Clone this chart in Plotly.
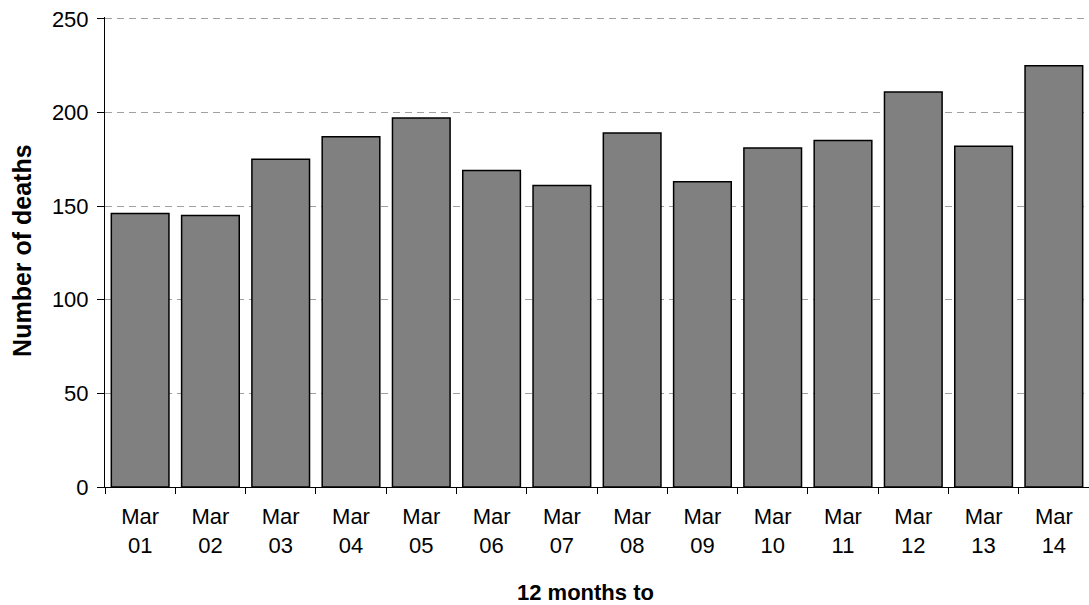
import plotly.graph_objects as go

# Deaths per 12-month period ending in March
periods = ["Mar<br>01", "Mar<br>02", "Mar<br>03", "Mar<br>04", "Mar<br>05", "Mar<br>06", "Mar<br>07",
           "Mar<br>08", "Mar<br>09", "Mar<br>10", "Mar<br>11", "Mar<br>12", "Mar<br>13", "Mar<br>14"]
deaths = [146, 145, 175, 187, 197, 169, 161, 189, 163, 181, 185, 211, 182, 225]
y_ticks = [0, 50, 100, 150, 200, 250]

FONT = "Liberation Sans, Arial, sans-serif"

fig = go.Figure(
    go.Bar(
        x=periods,
        y=deaths,
        marker=dict(color="#808080", line=dict(color="#000000", width=1.5)),
        hoverinfo="x+y",
    )
)

fig.update_layout(
    width=1089,
    height=605,
    margin=dict(l=105, r=0, t=17, b=118),
    paper_bgcolor="white",
    plot_bgcolor="white",
    bargap=0.18,
    showlegend=False,
    font=dict(family=FONT, size=22, color="#000000"),
    annotations=[
        dict(text="<b>12 months to</b>", xref="paper", yref="paper",
             x=0.4888, y=-0.2255, xanchor="center", yanchor="middle",
             showarrow=False, font=dict(family=FONT, size=22, color="#000000")),
        dict(text="<b>Number of deaths</b>", xref="paper", yref="paper",
             x=-0.0843, y=0.5024, xanchor="center", yanchor="middle", textangle=-90,
             showarrow=False, font=dict(family=FONT, size=25, color="#000000")),
    ],
)

fig.update_xaxes(
    type="category",
    tickson="boundaries",
    ticks="outside",
    ticklen=6,
    tickcolor="#000000",
    ticklabelstandoff=10,
    showline=True,
    linecolor="#000000",
    linewidth=1,
    showgrid=False,
    tickfont=dict(family=FONT, size=22, color="#000000"),
)

# a little headroom above 250 so its dashed gridline stays visible
fig.update_yaxes(
    range=[0, 251],
    tickvals=y_ticks,
    ticks="outside",
    ticklen=7,
    tickcolor="#000000",
    ticklabelstandoff=4,
    showline=True,
    linecolor="#000000",
    linewidth=1,
    showgrid=True,
    gridcolor="#a0a0a0",
    gridwidth=1,
    griddash="7px,5px",
    zeroline=False,
    tickfont=dict(family=FONT, size=22, color="#000000"),
)

fig.write_html("out.html")
